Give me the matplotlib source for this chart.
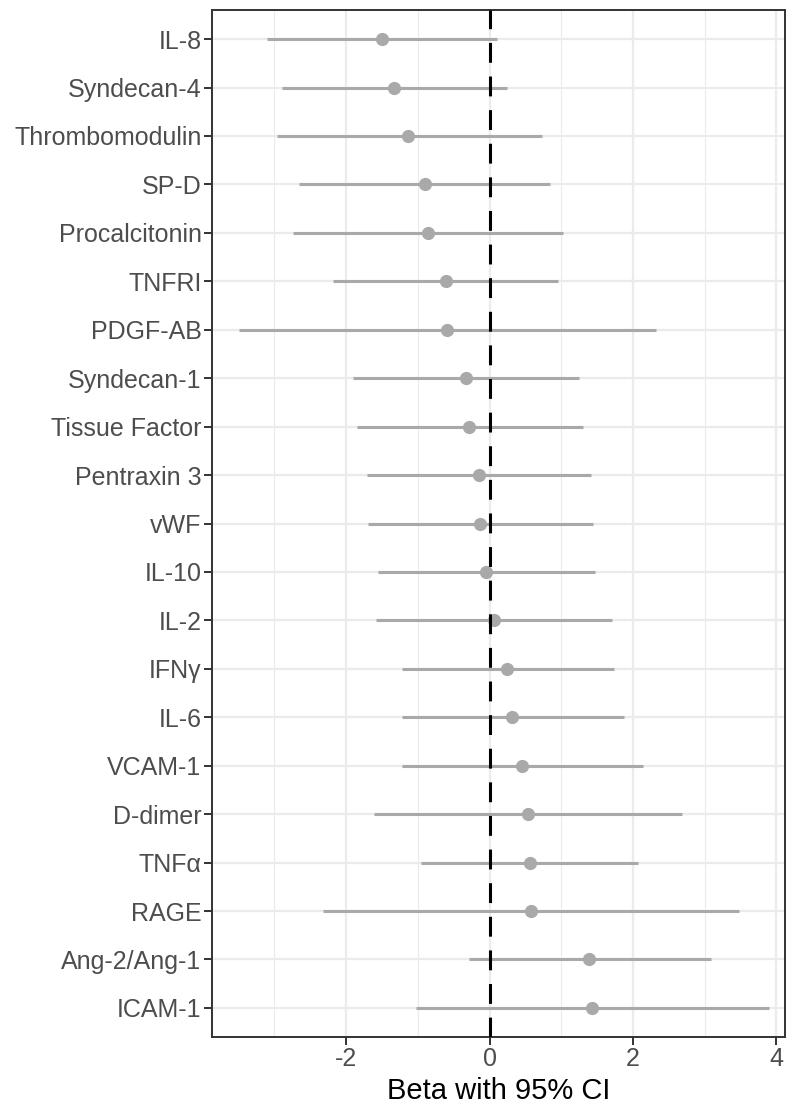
import numpy as np
import matplotlib
matplotlib.use("Agg")
import matplotlib.pyplot as plt

plt.rcParams['font.family'] = ['Liberation Sans', 'DejaVu Sans']

# markers, top to bottom
markers = ["IL-8", "Syndecan-4", "Thrombomodulin", "SP-D", "Procalcitonin",
           "TNFRI", "PDGF-AB", "Syndecan-1", "Tissue Factor", "Pentraxin 3",
           "vWF", "IL-10", "IL-2", "IFNγ", "IL-6", "VCAM-1", "D-dimer",
           "TNFα", "RAGE", "Ang-2/Ang-1", "ICAM-1"]
beta = [-1.50, -1.33, -1.13, -0.90, -0.86, -0.61, -0.59, -0.33, -0.28, -0.15,
        -0.13, -0.05, 0.06, 0.25, 0.32, 0.45, 0.54, 0.56, 0.58, 1.39, 1.43]
ci_low = [-3.11, -2.90, -2.97, -2.66, -2.74, -2.18, -3.49, -1.90, -1.85, -1.71,
          -1.69, -1.56, -1.58, -1.22, -1.22, -1.22, -1.61, -0.95, -2.32, -0.29, -1.02]
ci_high = [0.10, 0.24, 0.73, 0.85, 1.02, 0.96, 2.32, 1.25, 1.30, 1.41,
           1.44, 1.47, 1.71, 1.74, 1.88, 2.14, 2.69, 2.07, 3.48, 3.09, 3.89]

n = len(markers)
ypos = np.arange(n)[::-1]

fig = plt.figure(figsize=(7.86, 11.09), dpi=100)
ax = fig.add_axes([212/786, 1-1037/1109, 573/786, 1027/1109])

ax.set_xlim(-3.87, 4.12)
ax.set_ylim(-0.6, n-1+0.6)

# grid
ax.set_xticks([-2, 0, 2, 4])
ax.set_xticks([-3, -1, 1, 3], minor=True)
ax.set_yticks(ypos)
ax.set_yticklabels(markers)
ax.grid(True, which='major', color='#EBEBEB', lw=1.6, zorder=0)
ax.grid(True, which='minor', axis='x', color='#EBEBEB', lw=0.8, zorder=0)
ax.set_axisbelow(True)

ax.hlines(ypos, ci_low, ci_high, color='#A9A9A9', lw=2.2, zorder=2)
ax.plot(beta, ypos, 'o', color='#A9A9A9', markersize=9.5, markeredgewidth=0, zorder=3)
ax.axvline(0, color='black', lw=2.2, linestyle=(0, (6.5, 4.5)), zorder=4)

for s in ax.spines.values():
    s.set_color('#333333')
    s.set_linewidth(1.4)

ax.tick_params(axis='both', which='major', length=5.5, width=1.4, color='#333333',
               labelcolor='#4D4D4D', labelsize=18, pad=2)
ax.tick_params(axis='x', which='minor', length=0)
ax.set_xticklabels(['-2', '0', '2', '4'])
ax.set_xlabel("Beta with 95% CI", fontsize=21, color='black', labelpad=4)

fig.savefig("out.png", dpi=100)
